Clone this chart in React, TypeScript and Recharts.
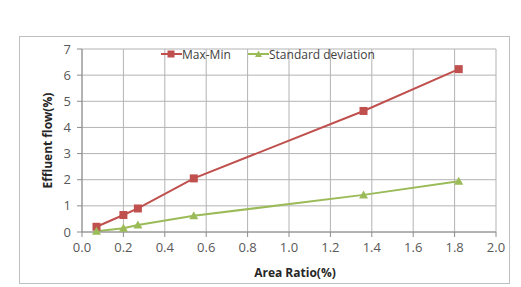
import React from 'react';
import { LineChart, Line, XAxis, YAxis, CartesianGrid } from 'recharts';

const areaRatio = [0.07, 0.2, 0.27, 0.54, 1.36, 1.82];
const maxMin = [0.2, 0.65, 0.9, 2.05, 4.63, 6.23];
const stdDev = [0.03, 0.14, 0.27, 0.62, 1.42, 1.94];
const xTicks = [0, 0.2, 0.4, 0.6, 0.8, 1.0, 1.2, 1.4, 1.6, 1.8, 2.0];
const yTicks = [0, 1, 2, 3, 4, 5, 6, 7];

const RED = '#C0504D';
const GREEN = '#9BBB59';
const FONT = '"Open Sans", "Noto Sans", sans-serif';

const data = areaRatio.map((x, i) => ({ x, maxMin: maxMin[i], std: stdDev[i] }));

const Square = (props: any) => {
  const { cx, cy } = props;
  if (cx == null || cy == null) return null;
  return <rect x={cx - 4} y={cy - 4} width={8} height={8} fill={RED} />;
};

const Triangle = (props: any) => {
  const { cx, cy } = props;
  if (cx == null || cy == null) return null;
  return <polygon points={`${cx},${cy - 4.5} ${cx + 4.5},${cy + 3.5} ${cx - 4.5},${cy + 3.5}`} fill={GREEN} />;
};

// legend drawn outside the chart so it doesn't eat into the plot area
const LegendBox = () => (
  <svg width={230} height={16} style={{ position: 'absolute', left: 160, top: 46 }}>
    <line x1={1} y1={8} x2={22} y2={8} stroke={RED} strokeWidth={2} />
    <rect x={7.5} y={4.5} width={7} height={7} fill={RED} />
    <text x={22} y={12.5} fontSize={12} fill="#404040" fontFamily={FONT}>Max-Min</text>
    <line x1={88} y1={8} x2={109} y2={8} stroke={GREEN} strokeWidth={2} />
    <polygon points="98.5,4.5 102,11 95,11" fill={GREEN} />
    <text x={109} y={12.5} fontSize={12} fill="#404040" fontFamily={FONT}>Standard deviation</text>
  </svg>
);

export default function App() {
  return (
    <div style={{ position: 'absolute', left: 0, top: 0, width: 521, height: 287, background: '#fff' }}>
      <div style={{ position: 'absolute', left: 19, top: 36, width: 489, height: 246, border: '1px solid #bfbfbf' }} />
      <div style={{ position: 'absolute', left: 0, top: 0 }}>
        <LineChart width={521} height={287} data={data} margin={{ top: 49, right: 25, bottom: 25, left: 52 }}>
          <CartesianGrid stroke="#b3b3b3" strokeWidth={1} />
          <XAxis
            dataKey="x"
            type="number"
            domain={[0, 2]}
            ticks={xTicks}
            tickFormatter={(v: number) => v.toFixed(1)}
            stroke="#8c8c8c"
            tickSize={5}
            height={30}
            tick={{ fill: '#595959', fontSize: 13, fontFamily: FONT }}
            tickMargin={6}
            label={{ value: 'Area Ratio(%)', position: 'insideBottom', offset: -15, dx: 6, fill: '#262626', fontSize: 12, fontWeight: 'bold', fontFamily: FONT }}
          />
          <YAxis
            type="number"
            domain={[0, 7]}
            ticks={yTicks}
            stroke="#8c8c8c"
            tickSize={5}
            width={30}
            tick={{ fill: '#595959', fontSize: 13, fontFamily: FONT }}
            tickMargin={6}
            label={{ value: 'Effluent flow(%)', angle: -90, position: 'insideLeft', offset: -4, dy: 48, fill: '#262626', fontSize: 12, fontWeight: 'bold', fontFamily: FONT }}
          />
          <Line dataKey="maxMin" name="Max-Min" stroke={RED} strokeWidth={2} dot={<Square />} activeDot={false} isAnimationActive={false} />
          <Line dataKey="std" name="Standard deviation" stroke={GREEN} strokeWidth={2} dot={<Triangle />} activeDot={false} isAnimationActive={false} />
        </LineChart>
      </div>
      <LegendBox />
    </div>
  );
}
